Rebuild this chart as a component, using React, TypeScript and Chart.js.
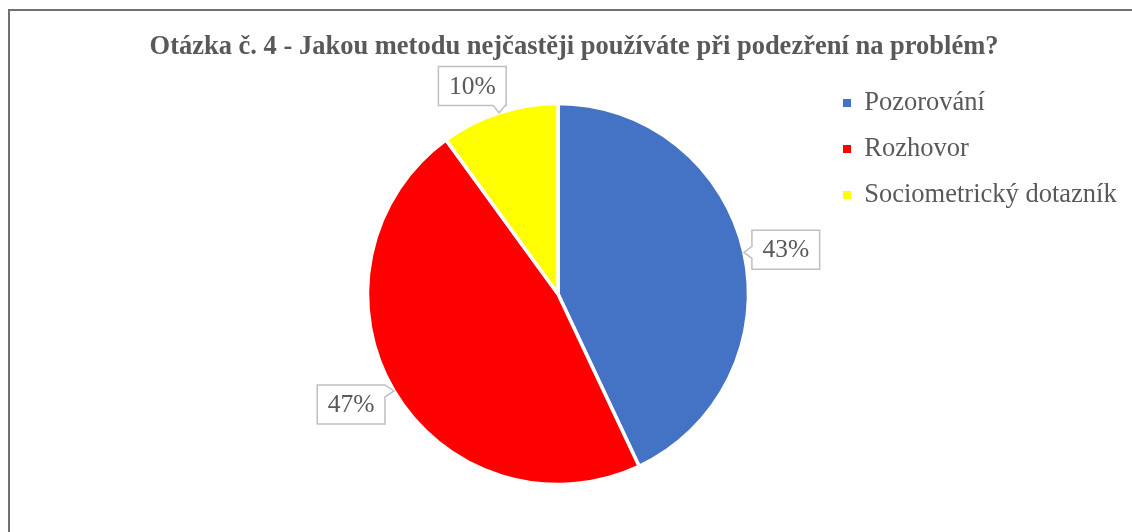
import React, { useEffect, useRef } from 'react';
import { Chart, registerables } from 'chart.js';

Chart.register(...registerables);

// ---- data ----
const categories = ['Pozorování', 'Rozhovor', 'Sociometrický dotazník'];
const values = [43, 47, 10];
const sliceColors = ['#4472C4', '#FF0000', '#FFFF00'];
const titleText = 'Otázka č. 4 - Jakou metodu nejčastěji používáte při podezření na problém?';

// ---- layout / style ----
const W = 1132;
const H = 532;
const FONT = "'Liberation Serif', 'Times New Roman', serif";
const TEXT = '#595959';
const TITLE_SIZE = 26.5;
const TITLE_CENTER_Y = 47;
const CHART_TOP = 101.75;
const CHART_BOTTOM = 486.25;
const PIE_CX = 558;
const LEGEND_LEFT = 823.5;
const LEGEND_SIZE = 26.5;
const LEGEND_PAD = 19.5;
const LEGEND_BOX = 8;
const LEGEND_FIRST_CENTER = 103;

const titleLH = TITLE_SIZE * 1.2;
const titlePadTop = TITLE_CENTER_Y - titleLH / 2;
const titlePadBottom = CHART_TOP - titlePadTop - titleLH;
const legendTitleHeight = LEGEND_FIRST_CENTER - LEGEND_SIZE / 2 - LEGEND_PAD;

const calloutPlugin = {
  id: 'callouts',
  afterDatasetsDraw(chart: any, _args: any, opts: any) {
    const ctx = chart.ctx as CanvasRenderingContext2D;
    const meta = chart.getDatasetMeta(0);
    const data = chart.data.datasets[0].data as number[];
    const total = data.reduce((a, b) => a + b, 0);
    ctx.save();
    ctx.font = `${opts.fontSize}px ${FONT}`;
    meta.data.forEach((el: any, i: number) => {
      const { x, y, startAngle, endAngle, outerRadius } = el.getProps(
        ['x', 'y', 'startAngle', 'endAngle', 'outerRadius'],
        true
      );
      const mid = (startAngle + endAngle) / 2;
      const tip = { x: x + Math.cos(mid) * outerRadius, y: y + Math.sin(mid) * outerRadius };
      const label = Math.round((data[i] / total) * 100) + '%';
      const tw = ctx.measureText(label).width;
      const bw = tw + 2 * opts.padX;
      const bh = opts.boxHeight;
      const hw = bw / 2;
      const hh = bh / 2;
      const dir = mid + ((opts.angleShift[i] || 0) * Math.PI) / 180;
      const ux = Math.cos(dir);
      const uy = Math.sin(dir);
      const target = outerRadius + opts.gap;
      let lo = 0;
      let hi = outerRadius * 3;
      for (let k = 0; k < 60; k++) {
        const t = (lo + hi) / 2;
        const dx = Math.max(Math.abs(t * ux) - hw, 0);
        const dy = Math.max(Math.abs(t * uy) - hh, 0);
        if (Math.hypot(dx, dy) < target) lo = t;
        else hi = t;
      }
      const cx = x + ux * lo;
      const cy = y + uy * lo;
      const L = cx - hw, T = cy - hh, R = cx + hw, B = cy + hh;
      const P = 2 * bw + 2 * bh;
      const ptAt = (s: number) => {
        s = ((s % P) + P) % P;
        if (s <= bw) return [L + s, T];
        if (s <= bw + bh) return [R, T + (s - bw)];
        if (s <= 2 * bw + bh) return [R - (s - bw - bh), B];
        return [L, B - (s - 2 * bw - bh)];
      };
      const px = Math.min(Math.max(tip.x, L), R);
      const py = Math.min(Math.max(tip.y, T), B);
      let s0: number;
      const e = 0.001;
      if (Math.abs(py - T) < e) s0 = px - L;
      else if (Math.abs(px - R) < e) s0 = bw + (py - T);
      else if (Math.abs(py - B) < e) s0 = bw + bh + (R - px);
      else s0 = 2 * bw + bh + (B - py);
      const s1 = s0 - opts.baseHalf;
      const s2 = s0 + opts.baseHalf;
      const span = (((s1 - s2) % P) + P) % P;
      const corners = [0, bw, bw + bh, 2 * bw + bh]
        .map((c) => ({ c, off: (((c - s2) % P) + P) % P }))
        .filter((o) => o.off > 0 && o.off < span)
        .sort((a, b) => a.off - b.off);
      ctx.beginPath();
      const p2 = ptAt(s2);
      ctx.moveTo(p2[0], p2[1]);
      corners.forEach((o) => {
        const p = ptAt(o.c);
        ctx.lineTo(p[0], p[1]);
      });
      const p1 = ptAt(s1);
      ctx.lineTo(p1[0], p1[1]);
      ctx.lineTo(tip.x, tip.y);
      ctx.closePath();
      ctx.fillStyle = '#FFFFFF';
      ctx.fill();
      ctx.lineWidth = opts.borderWidth;
      ctx.strokeStyle = opts.borderColor;
      ctx.stroke();
      ctx.fillStyle = opts.color;
      ctx.textAlign = 'center';
      ctx.textBaseline = 'middle';
      ctx.fillText(label, cx, cy + opts.textDy);
    });
    ctx.restore();
  },
};

const titleShiftPlugin = {
  id: 'titleShift',
  afterLayout(chart: any, _args: any, opts: any) {
    const t = chart.titleBlock;
    if (t) {
      t.left = opts.left;
      t.right = opts.right;
      t.width = opts.right - opts.left;
    }
  },
};

export default function App() {
  const ref = useRef<HTMLCanvasElement>(null);
  useEffect(() => {
    // measure the legend's natural width so the chart area ends exactly at LEGEND_LEFT
    const mctx = document.createElement('canvas').getContext('2d') as CanvasRenderingContext2D;
    mctx.font = `normal ${LEGEND_SIZE}px ${FONT}`;
    const maxText = Math.max(...categories.map((c) => mctx.measureText(c).width));
    const legendW = LEGEND_PAD + LEGEND_BOX + LEGEND_SIZE / 2 + maxText + 10;
    const chartW = 2 * (LEGEND_LEFT - PIE_CX);
    const padLeft = LEGEND_LEFT - chartW;
    const padRight = W - LEGEND_LEFT - legendW;
    const chart = new Chart(ref.current as HTMLCanvasElement, {
      type: 'pie',
      data: {
        labels: categories,
        datasets: [
          {
            data: values,
            backgroundColor: sliceColors,
            borderColor: '#FFFFFF',
            borderWidth: 3.5,
            hoverOffset: 0,
          },
        ],
      },
      plugins: [calloutPlugin, titleShiftPlugin],
      options: {
        responsive: false,
        animation: false,
        devicePixelRatio: 1,
        events: [],
        layout: {
          padding: { left: padLeft, right: padRight, top: 0, bottom: H - CHART_BOTTOM },
        },
        plugins: {
          tooltip: { enabled: false },
          title: {
            display: true,
            text: titleText,
            color: TEXT,
            font: { family: FONT, size: TITLE_SIZE, weight: 'bold', lineHeight: 1.2 },
            padding: { top: titlePadTop, bottom: titlePadBottom },
          },
          legend: {
            display: true,
            position: 'right',
            align: 'start',
            maxWidth: legendW + 2,
            title: {
              display: true,
              text: '',
              font: { size: 10, lineHeight: 1 },
              padding: { top: legendTitleHeight - 10, bottom: 0 },
            },
            labels: {
              boxWidth: LEGEND_BOX,
              boxHeight: LEGEND_BOX,
              padding: LEGEND_PAD,
              color: TEXT,
              font: { family: FONT, size: LEGEND_SIZE },
              generateLabels: (c: any) => {
                const base = (Chart as any).overrides.doughnut.plugins.legend.labels.generateLabels(c);
                return base.map((l: any) => ({ ...l, lineWidth: 0, strokeStyle: 'rgba(0,0,0,0)' }));
              },
            },
          },
          callouts: {
            fontSize: 25.5,
            color: TEXT,
            padX: 10.5,
            boxHeight: 39,
            gap: 5,
            baseHalf: 6,
            borderColor: '#BFBFBF',
            borderWidth: 1.5,
            textDy: 1,
            angleShift: [1.6, 2.5, -4.4],
          },
          titleShift: { left: 16, right: W },
        } as any,
      },
    });
    return () => chart.destroy();
  }, []);
  return (
    <div
      style={{
        position: 'absolute',
        left: 0,
        top: 0,
        width: W,
        height: H,
        overflow: 'hidden',
        background: '#FFFFFF',
      }}
    >
      <div
        style={{
          position: 'absolute',
          left: 8,
          top: 9,
          width: 1400,
          height: 800,
          borderLeft: '2px solid #707070',
          borderTop: '2px solid #707070',
        }}
      />
      <canvas
        ref={ref}
        width={W}
        height={H}
        style={{ position: 'absolute', left: 0, top: 0, width: W, height: H, display: 'block' }}
      />
    </div>
  );
}
